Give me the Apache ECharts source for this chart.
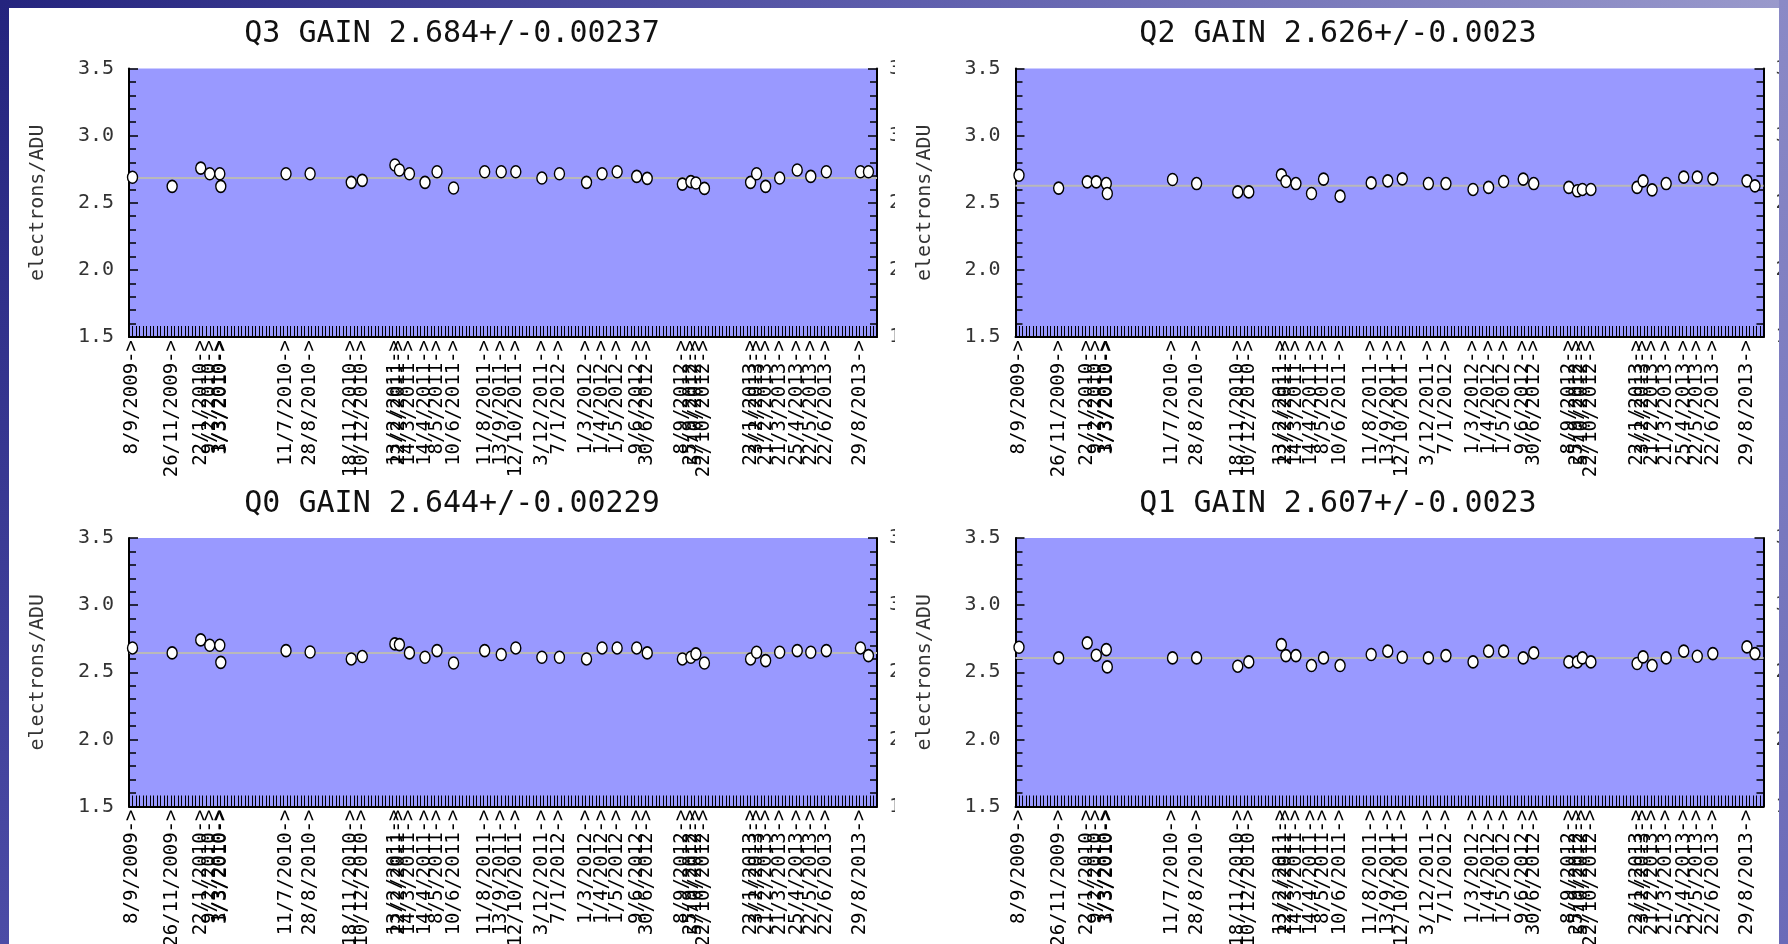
<!DOCTYPE html>
<html><head><meta charset="utf-8">
<script src="https://cdn.jsdelivr.net/npm/echarts@6/dist/echarts.min.js"></script>
<style>html,body{margin:0;padding:0;background:#fff;}#c{width:1788px;height:944px;}</style>
</head><body><div id="c"></div>
<script>
// ---- data ----
const dates = ['8/9/2009','26/11/2009','22/1/2010','9/2/2010','1/3/2010','3/3/2010','11/7/2010','28/8/2010',
  '18/11/2010','10/12/2010','13/2/2011','22/2/2011','14/3/2011','14/4/2011','8/5/2011','10/6/2011',
  '11/8/2011','13/9/2011','12/10/2011','3/12/2011','7/1/2012','1/3/2012','1/4/2012','1/5/2012','9/6/2012','30/6/2012',
  '8/9/2012','25/9/2012','5/10/2012','22/10/2012','22/1/2013','3/2/2013','21/2/2013','21/3/2013','25/4/2013',
  '22/5/2013','22/6/2013','29/8/2013','14/9/2013'];
const q3 = [2.69,2.622,2.758,2.716,2.716,2.622,2.716,2.716,2.652,2.667,2.781,2.744,2.716,2.652,2.731,2.610,2.731,2.731,2.731,2.684,2.716,2.652,2.716,2.731,2.696,2.682,2.639,2.657,2.647,2.607,2.652,2.716,2.622,2.684,2.744,2.696,2.731,2.731,2.731];
const q2 = [2.705,2.609,2.656,2.656,2.643,2.569,2.673,2.643,2.581,2.581,2.708,2.658,2.643,2.569,2.676,2.549,2.648,2.663,2.678,2.643,2.643,2.599,2.614,2.658,2.676,2.643,2.614,2.589,2.599,2.599,2.614,2.663,2.596,2.643,2.691,2.691,2.678,2.663,2.626];
const q0 = [2.681,2.644,2.741,2.701,2.701,2.574,2.661,2.651,2.599,2.617,2.711,2.706,2.644,2.612,2.661,2.569,2.661,2.632,2.681,2.612,2.612,2.599,2.681,2.681,2.681,2.644,2.599,2.612,2.637,2.569,2.599,2.649,2.587,2.649,2.661,2.649,2.661,2.681,2.624];
const q1 = [2.686,2.607,2.719,2.627,2.669,2.540,2.607,2.607,2.545,2.577,2.706,2.624,2.624,2.550,2.607,2.550,2.632,2.657,2.612,2.607,2.624,2.577,2.657,2.657,2.607,2.644,2.577,2.577,2.607,2.577,2.565,2.614,2.550,2.607,2.657,2.619,2.639,2.689,2.639];
const titles = ['Q3 GAIN 2.684+/-0.00237','Q2 GAIN 2.626+/-0.0023','Q0 GAIN 2.644+/-0.00229','Q1 GAIN 2.607+/-0.0023'];
const means = [2.684, 2.626, 2.644, 2.607];
const yName = 'electrons/ADU';
const axisStart = '1/9/2009', axisEnd = '1/10/2013';
const yMin = 1.5, yMax = 3.5, yStep = 0.5;

// ---- helpers ----
function day(s){const p=s.split('/').map(Number);return Math.round((Date.UTC(p[2],p[1]-1,p[0])-Date.UTC(2009,8,1))/864e5);}
const X0 = day(axisStart), X1 = day(axisEnd);
const xs = dates.map(day);
const labelOf = {}; dates.forEach(s => labelOf[day(s)] = s);
const seriesVals = [q3, q2, q0, q1];

const MONO = 'DejaVu Sans Mono';
const panels = [
  {left:129, top:68.5, tx:452, ty:34},
  {left:1015.5, top:68.5, tx:1338, ty:34},
  {left:129, top:538, tx:452, ty:504},
  {left:1015.5, top:538, tx:1338, ty:504}
];
const W = 748, H = 268.5;
const ellipse = 'path://M5,0A5,6,0,1,1,5,12A5,6,0,1,1,5,0Z';

const grid = [], xAxis = [], yAxis = [], series = [], graphic = [];
panels.forEach((p, i) => {
  grid.push({left:p.left, top:p.top, width:W, height:H, show:true, backgroundColor:'#9999ff', borderWidth:0,
    containLabel:false, outerBoundsMode:'none'});
  xAxis.push({gridIndex:i, type:'value', min:X0, max:X1, position:'bottom',
    axisLine:{show:true, onZero:false, lineStyle:{color:'#000', width:2}},
    axisTick:{show:false}, splitLine:{show:false},
    axisLabel:{customValues: xs, rotate:90, margin:3, padding:[0,0,6,0],
      formatter: v => (labelOf[v] || '') + '->',
      fontFamily:MONO, fontSize:19, color:'#000'}});
  xAxis.push({gridIndex:i, type:'value', min:X0, max:X1, interval:7, position:'bottom',
    axisLine:{show:false}, axisLabel:{show:false}, splitLine:{show:false},
    axisTick:{show:true, inside:true, length:11, lineStyle:{color:'#000', width:1}}});
  const yBase = {gridIndex:i, type:'value', min:yMin, max:yMax, interval:yStep,
    axisLine:{show:true, onZero:false, lineStyle:{color:'#000', width:2}},
    axisTick:{show:true, inside:true, length:9, lineStyle:{color:'#000', width:1.5}},
    minorTick:{show:true, splitNumber:5, length:7, lineStyle:{color:'#000', width:1.5}},
    splitLine:{show:false}};
  yAxis.push(Object.assign({}, yBase, {position:'left',
    axisLabel:{formatter: v => v.toFixed(1), fontFamily:MONO, fontSize:20, color:'#333', margin:15},
    name:yName, nameLocation:'middle', nameRotate:90, nameGap:81,
    nameTextStyle:{fontFamily:MONO, fontSize:20, color:'#333'}}));
  // right-hand axis: its labels are cut off by the edge of each picture, only the first digit shows
  yAxis.push(Object.assign({}, yBase, {position:'right',
    axisLabel:{formatter: v => v.toFixed(1).charAt(0), fontFamily:MONO, fontSize:20, color:'#333', margin:12}}));
  series.push({type:'line', xAxisIndex:2*i, yAxisIndex:2*i, data:[[X0, means[i]],[X1, means[i]]],
    symbol:'none', lineStyle:{color:'#b9b9b9', width:2}, z:2, silent:true});
  series.push({type:'scatter', xAxisIndex:2*i, yAxisIndex:2*i, clip:true,
    data: xs.map((x, k) => [x, seriesVals[i][k]]),
    symbol: ellipse, symbolSize:[10,12],
    itemStyle:{color:'#fff', borderColor:'#000', borderWidth:1.5, opacity:1}, z:3, silent:true});
  graphic.push({type:'text', x:p.tx, y:p.ty, z:50,
    style:{text:titles[i], fontFamily:MONO, fontSize:30, fill:'#111', align:'center', verticalAlign:'middle'}});
});
// edge of the left pictures cuts their right-hand labels
graphic.push({type:'rect', shape:{x:895, y:50, width:16, height:310}, style:{fill:'#fff'}, z:90});
graphic.push({type:'rect', shape:{x:895, y:520, width:16, height:310}, style:{fill:'#fff'}, z:90});
// slide frame
graphic.push({type:'rect', shape:{x:0, y:0, width:1788, height:8}, z:100,
  style:{fill:new echarts.graphic.LinearGradient(0,0,1,0,[{offset:0,color:'#24247e'},{offset:0.5,color:'#5d5dac'},{offset:1,color:'#9a9acc'}])}});
graphic.push({type:'rect', shape:{x:0, y:0, width:9, height:944}, z:100,
  style:{fill:new echarts.graphic.LinearGradient(0,0,0,1,[{offset:0,color:'#24247e'},{offset:1,color:'#4c4ca6'}])}});
graphic.push({type:'rect', shape:{x:1779, y:0, width:9, height:944}, z:100,
  style:{fill:new echarts.graphic.LinearGradient(0,0,0,1,[{offset:0,color:'#8a8ac6'},{offset:1,color:'#6a6ab8'}])}});

const chart = echarts.init(document.getElementById('c'), null, {renderer:'canvas'});
chart.setOption({animation:false, backgroundColor:'#fff', grid, xAxis, yAxis, series, graphic});
</script></body></html>
